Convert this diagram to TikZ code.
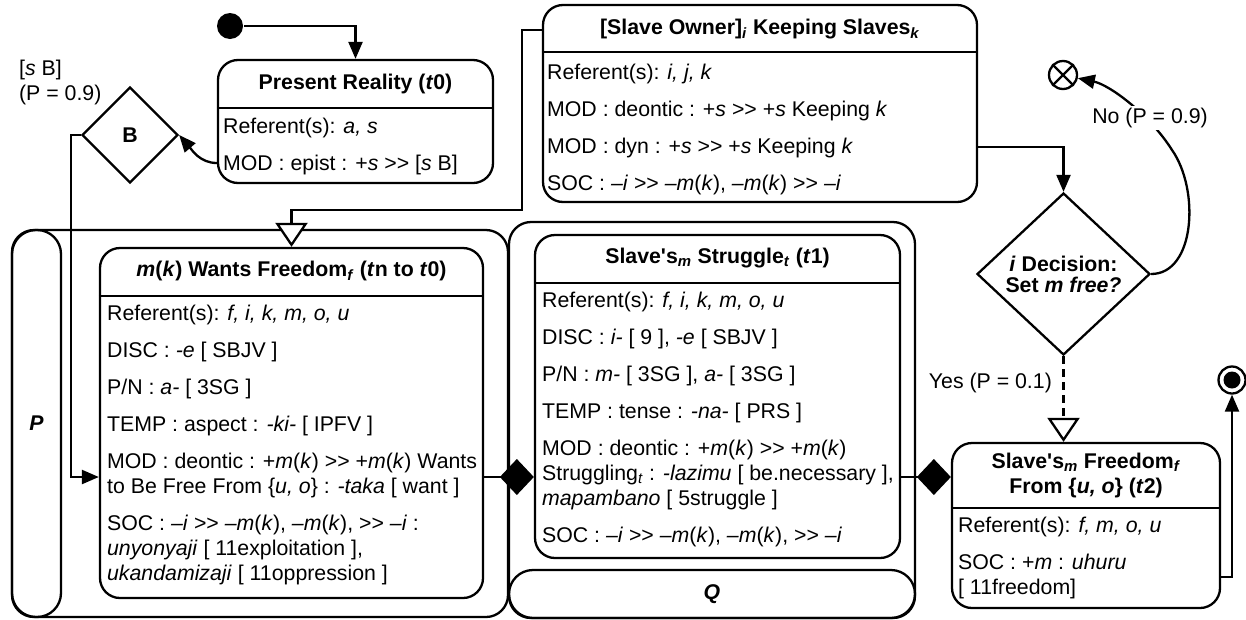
\documentclass[tikz,border=0pt]{standalone}
\usepackage{fontspec}
\newfontfamily\diafont{Liberation Sans}
\usetikzlibrary{arrows.meta,shapes.geometric}

\tikzset{
  box/.style={draw, rounded corners=20pt, inner sep=0pt},
  lane/.style={draw, rounded corners=24pt, inner sep=0pt},
  txt/.style={inner sep=0pt, align=left, anchor=north west},
  ttl/.style={inner sep=0pt, align=center, font=\diafont\fontsize{21.3}{25}\selectfont\bfseries},
  arr/.style={-{Triangle[length=17pt,width=14pt]}},
  gen/.style={-{Triangle[length=24pt,width=32pt,fill=white]}},
  agg/.style={-{Diamond[length=34pt,width=36pt]}},
}

\begin{document}
\begin{tikzpicture}[x=1pt,y=-1pt,line width=2.3pt,
    every node/.style={font=\diafont\fontsize{21.3}{25}\selectfont}]
    \useasboundingbox (0,0) rectangle (1246,619);

    % pools and lanes
    \node[box, rounded corners=22pt, minimum width=496pt, minimum height=387pt] (poolP) at (260,423.5) {};
    \node[lane, minimum width=49pt, minimum height=387pt] (laneP) at (36.5,423.5) {\textbf{\textit{P}}};
    \node[box, rounded corners=22pt, minimum width=406pt, minimum height=396pt] (poolQ) at (712,420) {};
    \node[lane, minimum width=406pt, minimum height=48pt] (laneQ) at (712,594) {\textbf{\textit{Q}}};

    % initial and final states
    \node[circle, fill, inner sep=0pt, minimum size=26pt] (start) at (230,26) {};
    \node[circle, draw, inner sep=0pt, minimum size=28pt] (cx) at (1063,75) {};
    \draw (cx.north west) -- (cx.south east) (cx.north east) -- (cx.south west);
    \node[circle, draw, inner sep=0pt, minimum size=27pt] (fin) at (1232,380) {};
    \fill (fin) circle (8.5pt);

    % Present Reality
    \node[box, minimum width=275pt, minimum height=123pt] (pr) at (355.5,121.5) {};
    \draw (pr.west |- 0,108) -- (pr.east |- 0,108);
    \node[ttl] (prT) at (355.5,84) {Present Reality (\textit{t}0)};
    \node[txt] (prB) at (222,117) {Referent(s): \textit{a, s}\\[12pt]MOD : epist : +\textit{s} >> [\textit{s} B]};

    % choice B
    \node[diamond, draw, inner sep=0pt, minimum size=96pt] (B) at (130,135) {\textbf{B}};
    \node[txt] (Blbl) at (18,59) {[\textit{s} B]\\(P = 0.9)};

    % Slave Owner
    \node[box, minimum width=434pt, minimum height=197pt] (so) at (760,103.5) {};
    \draw (so.west |- 0,52) -- (so.east |- 0,52);
    \node[ttl] (soT) at (760,29) {[Slave Owner]\textsubscript{\textit{i}} Keeping Slaves\textsubscript{\textit{k}}};
    \node[txt] (soB) at (546,63) {Referent(s): \textit{i, j, k}\\[12pt]
      MOD : deontic : +\textit{s} >> +\textit{s} Keeping \textit{k}\\[12pt]
      MOD : dyn : +\textit{s} >> +\textit{s} Keeping \textit{k}\\[12pt]
      SOC : \textit{–i} >> \textit{–m}(\textit{k}), \textit{–m}(\textit{k}) >> \textit{–i}};

    % m(k) wants freedom
    \node[box, minimum width=383pt, minimum height=350pt] (mk) at (291.5,423) {};
    \draw (mk.west |- 0,296) -- (mk.east |- 0,296);
    \node[ttl] (mkT) at (291.5,271) {\textit{m}(\textit{k}) Wants Freedom\textsubscript{\textit{f}} (\textit{t}n to \textit{t}0)};
    \node[txt] (mkB) at (106,304) {Referent(s): \textit{f, i, k, m, o, u}\\[12pt]
      DISC : \textit{-e} [ SBJV ]\\[12pt]
      P/N : \textit{a-} [ 3SG ]\\[12pt]
      TEMP : aspect : \textit{-ki-} [ IPFV ]\\[12pt]
      MOD : deontic : +\textit{m}(\textit{k}) >> +\textit{m}(\textit{k}) Wants\\
      to Be Free From \{\textit{u, o}\} : \textit{-taka} [ want ]\\[12pt]
      SOC : \textit{–i} >> \textit{–m}(\textit{k}), \textit{–m}(\textit{k}), >> \textit{–i} :\\
      \textit{unyonyaji} [ 11exploitation ],\\
      \textit{ukandamizaji} [ 11oppression ]};

    % Slave's struggle
    \node[box, minimum width=365pt, minimum height=323pt] (st) at (717.5,396.5) {};
    \draw (st.west |- 0,283) -- (st.east |- 0,283);
    \node[ttl] (stT) at (717.5,258) {Slave's\textsubscript{\textit{m}} Struggle\textsubscript{\textit{t}} (\textit{t}1)};
    \node[txt] (stB) at (541,291) {Referent(s): \textit{f, i, k, m, o, u}\\[12pt]
      DISC : \textit{i-} [ 9 ], \textit{-e} [ SBJV ]\\[12pt]
      P/N : \textit{m-} [ 3SG ], \textit{a-} [ 3SG ]\\[12pt]
      TEMP : tense : \textit{-na-} [ PRS ]\\[12pt]
      MOD : deontic : +\textit{m}(\textit{k}) >> +\textit{m}(\textit{k})\\
      Struggling\textsubscript{\textit{t}} : \textit{-lazimu} [ be.necessary ],\\
      \textit{mapambano} [ 5struggle ]\\[12pt]
      SOC : \textit{–i} >> \textit{–m}(\textit{k}), \textit{–m}(\textit{k}), >> \textit{–i}};

    % decision
    \node[diamond, draw, inner sep=0pt, minimum width=173pt, minimum height=162pt, align=center,
      font=\diafont\fontsize{21.3}{21}\selectfont\bfseries] (dec) at (1063.5,274)
      {\textit{i} Decision:\\Set \textit{m free?}};

    % Slave's freedom
    \node[box, minimum width=268pt, minimum height=165pt] (fr) at (1086,525.5) {};
    \draw (fr.west |- 0,508) -- (fr.east |- 0,508);
    \node[ttl] (frT) at (1086,475) {Slave's\textsubscript{\textit{m}} Freedom\textsubscript{\textit{f}}\\From \{\textit{u, o}\} (\textit{t}2)};
    \node[txt] (frB) at (957,516) {Referent(s): \textit{f, m, o, u}\\[12pt]
      SOC : +\textit{m} : \textit{uhuru}\\{}[ 11freedom]};

    % transitions
    \draw[arr] (start) -| (pr);
    \draw[arr] (pr.west |- 0,163) .. controls (200,163) and (192,150) .. (B.east);
    \draw[arr] (B.west) -- ++(-10,0) |- (mk.west |- 0,477);
    \draw[gen] (so.west |- 0,30) -- ++(-20,0) |- (mk.north |- 0,210) -- (mk.north);
    \draw[arr] (so.east |- 0,147) -| (dec);
    \draw[arr] (dec.east) .. controls (1195,274) and (1200,190) .. (1172,150)
      .. controls (1150,115) and (1110,85) .. (cx);
    \node[fill=white, inner sep=2pt] (no) at (1150,118) {No (P = 0.9)};
    \draw[gen, dash pattern=on 8pt off 5pt] (dec.south) -- (dec.south |- fr.north);
    \node[anchor=east, inner sep=0pt] (yes) at (1053,383) {Yes (P = 0.1)};
    \draw[agg] (mk.east |- 0,477) -- (st.west |- 0,477);
    \draw[agg] (st.east |- 0,477) -- (fr.west |- 0,477);
    \draw[arr] (fr.east |- 0,577) -| (fin);
\end{tikzpicture}
\end{document}
